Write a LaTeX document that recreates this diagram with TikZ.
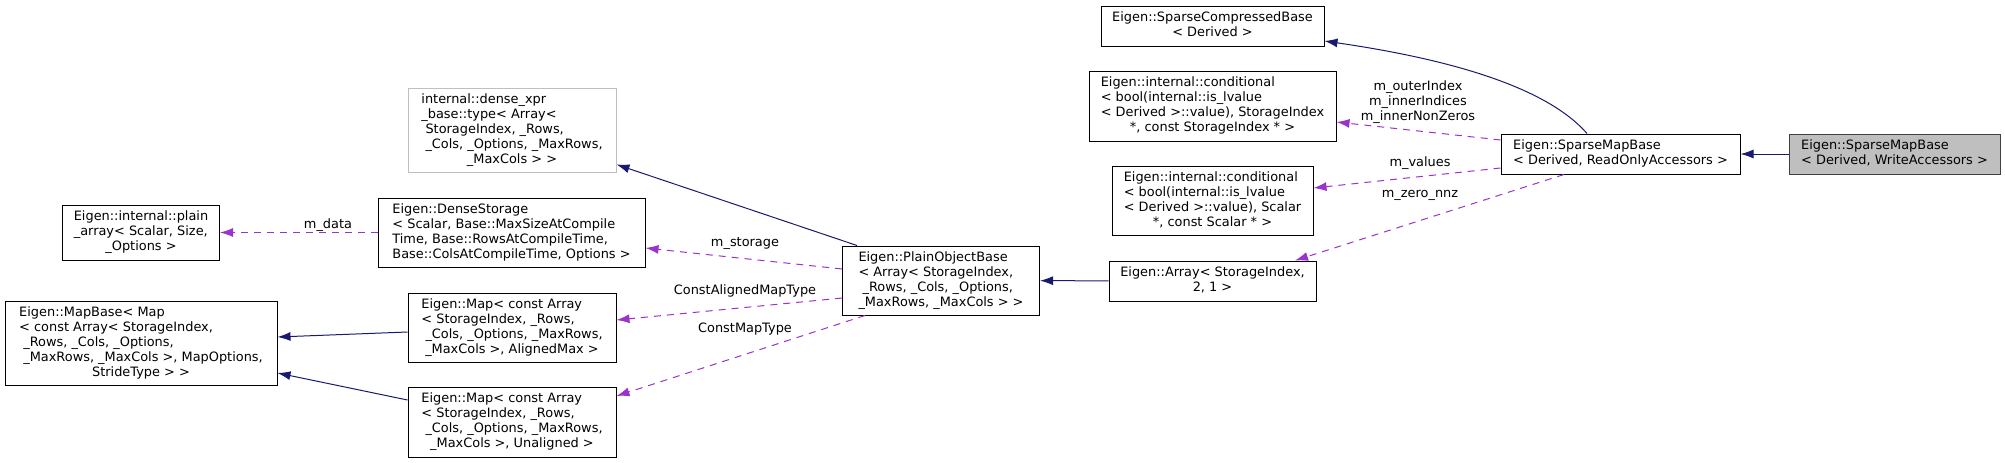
\documentclass[tikz,border=0pt]{standalone}
\usepackage{fontspec}
\setmainfont{DejaVu Sans}
\usetikzlibrary{arrows.meta,calc}
\definecolor{inhline}{HTML}{191970}
\definecolor{useline}{HTML}{9A32CD}
\definecolor{boxline}{HTML}{404040}
\definecolor{hiddenline}{HTML}{BFBFBF}
\definecolor{focusfill}{HTML}{BFBFBF}
\newcommand{\doxtext}[2]{\begin{tabular}{@{}l@{}}#1\\\multicolumn{1}{@{}c@{}}{#2}\end{tabular}}

\begin{document}
\begin{tikzpicture}[x=1pt,y=-1pt,font=\fontsize{12.9}{15}\selectfont,
cls/.style 2 args={draw=black,line width=1pt,fill=white,inner sep=0pt,minimum width=#1,minimum height=#2},
inh/.style={-{Latex[length=13pt,width=9pt]},line width=1pt,draw=inhline},
use/.style={-{Latex[length=13pt,width=9pt]},line width=1pt,draw=useline,dash pattern=on 7pt off 6pt},
lbl/.style={inner sep=0pt,align=center}]
\useasboundingbox (0,0) rectangle (2005,463);
\node[cls={211}{40},fill=focusfill,draw=boxline] (smbwrite) at (1894.5,154) {\doxtext{Eigen::SparseMapBase}{< Derived, WriteAccessors >}};
\node[cls={239}{40}] (smbread) at (1620.5,154) {\doxtext{Eigen::SparseMapBase}{< Derived, ReadOnlyAccessors >}};
\node[cls={223}{40}] (compressed) at (1212.5,26) {\doxtext{Eigen::SparseCompressedBase}{< Derived >}};
\node[cls={247}{70}] (condindex) at (1212.5,106) {\doxtext{Eigen::internal::conditional\\< bool(internal::is\_lvalue\\< Derived >::value), StorageIndex}{*, const StorageIndex * >}};
\node[cls={201}{69}] (condscalar) at (1212.5,200.5) {\doxtext{Eigen::internal::conditional\\< bool(internal::is\_lvalue\\< Derived >::value), Scalar}{*, const Scalar * >}};
\node[cls={207}{40}] (arrayidx) at (1212.5,281) {\doxtext{Eigen::Array< StorageIndex,}{2, 1 >}};
\node[cls={197}{69}] (plainobj) at (941,280.5) {\doxtext{Eigen::PlainObjectBase\\< Array< StorageIndex,\\\ \_Rows, \_Cols, \_Options,}{\_MaxRows, \_MaxCols > >}};
\node[cls={208}{84},draw=hiddenline] (densexpr) at (512,130) {\doxtext{internal::dense\_xpr\\\_base::type< Array<\\\ StorageIndex, \_Rows,\\\ \_Cols, \_Options, \_MaxRows,}{\_MaxCols > >}};
\node[cls={267}{69}] (densestore) at (511.5,232.5) {\doxtext{Eigen::DenseStorage\\< Scalar, Base::MaxSizeAtCompile\\Time, Base::RowsAtCompileTime,}{Base::ColsAtCompileTime, Options >}};
\node[cls={157}{55}] (plainarr) at (141,232.5) {\doxtext{Eigen::internal::plain\\\_array< Scalar, Size,}{\_Options >}};
\node[cls={208}{69}] (mapaligned) at (512,327.5) {\doxtext{Eigen::Map< const Array\\< StorageIndex, \_Rows,\\\ \_Cols, \_Options, \_MaxRows,}{\_MaxCols >, AlignedMax >}};
\node[cls={208}{70}] (mapunaligned) at (512,422) {\doxtext{Eigen::Map< const Array\\< StorageIndex, \_Rows,\\\ \_Cols, \_Options, \_MaxRows,}{\_MaxCols >, Unaligned >}};
\node[cls={272}{84}] (mapbase) at (141,343) {\doxtext{Eigen::MapBase< Map\\< const Array< StorageIndex,\\\ \_Rows, \_Cols, \_Options,\\\ \_MaxRows, \_MaxCols >, MapOptions,}{StrideType > >}};
\draw[inh] (smbwrite) -- (smbread);
\draw[inh] ($(smbread.north)+(-33.5,0)$) .. controls +(-47,-54) and +(96,14) .. ($(compressed.east)+(0,15)$);
\draw[use] ($(smbread.west)+(0,-14)$) -- ($(condindex.east)+(0,16)$) node[lbl] (louter) at (1418,102) {m\_outerIndex\\m\_innerIndices\\m\_innerNonZeros};
\draw[use] ($(smbread.west)+(0,14)$) -- ($(condscalar.east)+(0,-12.5)$) node[lbl] (lvalues) at (1420,163) {m\_values};
\draw[use] ($(smbread.south)+(-56.5,0)$) -- ($(arrayidx.north)+(82.5,0)$) node[lbl] (lzero) at (1420,195) {m\_zero\_nnz};
\draw[inh] (arrayidx) -- (plainobj);
\draw[inh] ($(plainobj.north)+(-84,0)$) -- ($(densexpr.south east)+(0,-8)$);
\draw[use] ($(plainobj.west)+(0,-11.5)$) -- ($(densestore.east)+(0,15.5)$) node[lbl] (lstorage) at (745,243) {m\_storage};
\draw[use] ($(plainobj.west)+(0,17.5)$) -- ($(mapaligned.east)+(0,-7.5)$) node[lbl] (laligned) at (745,291) {ConstAlignedMapType};
\draw[use] ($(plainobj.south)+(-76,0)$) -- ($(mapunaligned.east)+(0,-26)$) node[lbl] (lmap) at (745,329) {ConstMapType};
\draw[use] (densestore) -- (plainarr) node[lbl] (ldata) at (328,225) {m\_data};
\draw[inh] ($(mapaligned.west)+(0,4.5)$) -- ($(mapbase.east)+(0,-6)$);
\draw[inh] ($(mapunaligned.west)+(0,-22)$) -- ($(mapbase.east)+(0,30)$);
\end{tikzpicture}
\end{document}
